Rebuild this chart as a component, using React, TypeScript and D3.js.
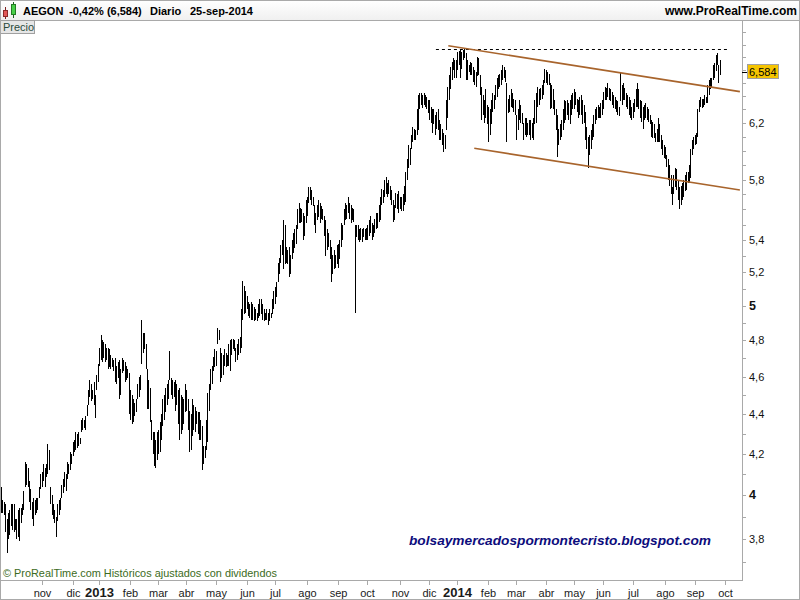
import React from 'react';
import * as d3 from 'd3';

// Daily high / low of AEGON (bar 0 = late Sep 2012, last bar = 25-sep-2014)
const highs = [
  4.04,3.98,3.97,3.96,3.89,3.92,3.93,3.96,3.96,3.96,
  3.89,3.89,3.93,3.94,3.94,3.96,4.02,4.16,4.15,4.13,
  4.07,4.03,3.97,3.99,3.98,3.99,3.99,4.04,4.10,4.11,
  4.15,4.13,4.15,4.25,4.22,4.04,4.00,3.96,3.93,3.90,
  3.96,3.98,3.99,4.05,4.08,4.11,4.10,4.16,4.15,4.21,
  4.20,4.26,4.27,4.31,4.30,4.31,4.28,4.37,4.38,4.37,
  4.39,4.45,4.53,4.58,4.56,4.53,4.57,4.50,4.61,4.67,
  4.76,4.83,4.80,4.79,4.78,4.76,4.76,4.75,4.72,4.70,
  4.69,4.70,4.66,4.68,4.69,4.64,4.70,4.69,4.68,4.66,
  4.64,4.62,4.53,4.50,4.48,4.46,4.48,4.56,4.60,4.61,
  4.92,4.84,4.84,4.78,4.64,4.58,4.54,4.37,4.31,4.31,
  4.27,4.31,4.32,4.36,4.40,4.48,4.50,4.54,4.56,4.58,
  4.74,4.59,4.58,4.57,4.58,4.56,4.53,4.54,4.50,4.49,
  4.48,4.56,4.53,4.48,4.42,4.40,4.48,4.45,4.44,4.42,
  4.41,4.41,4.37,4.34,4.24,4.24,4.37,4.51,4.56,4.64,
  4.66,4.71,4.75,4.74,4.87,4.86,4.76,4.73,4.72,4.75,
  4.73,4.72,4.78,4.80,4.81,4.81,4.80,4.76,4.78,4.81,
  4.82,4.98,5.15,5.12,5.09,5.06,5.02,5.01,5.02,5.01,
  4.99,4.98,4.96,5.01,5.04,5.04,5.01,4.98,4.96,4.98,
  4.96,4.98,4.96,5.04,5.09,5.11,5.14,5.26,5.29,5.37,
  5.40,5.53,5.50,5.36,5.34,5.36,5.31,5.40,5.45,5.47,
  5.50,5.60,5.64,5.61,5.60,5.58,5.56,5.66,5.68,5.75,
  5.75,5.73,5.68,5.63,5.58,5.63,5.66,5.64,5.62,5.60,
  5.56,5.53,5.47,5.45,5.40,5.36,5.31,5.34,5.31,5.37,
  5.38,5.40,5.51,5.50,5.60,5.64,5.63,5.68,5.64,5.63,
  5.61,5.60,5.50,5.50,5.50,5.47,5.48,5.47,5.48,5.47,
  5.48,5.50,5.53,5.56,5.51,5.50,5.54,5.58,5.58,5.63,
  5.68,5.74,5.73,5.80,5.82,5.78,5.80,5.76,5.73,5.66,
  5.63,5.71,5.70,5.72,5.68,5.68,5.70,5.76,5.85,5.94,
  6.04,6.02,6.11,6.17,6.16,6.15,6.30,6.41,6.42,6.42,
  6.41,6.42,6.41,6.39,6.37,6.37,6.32,6.30,6.30,6.26,
  6.28,6.30,6.22,6.19,6.16,6.13,6.11,6.37,6.47,6.56,
  6.62,6.66,6.69,6.68,6.68,6.74,6.75,6.76,6.74,6.76,
  6.77,6.73,6.68,6.64,6.66,6.65,6.62,6.60,6.58,6.70,
  6.69,6.56,6.47,6.41,6.37,6.45,6.33,6.32,6.30,6.37,
  6.42,6.41,6.48,6.54,6.56,6.57,6.60,6.64,6.62,6.60,
  6.50,6.38,6.41,6.45,6.42,6.38,6.37,6.26,6.30,6.37,
  6.33,6.27,6.20,6.24,6.24,6.20,6.22,6.22,6.20,6.24,
  6.37,6.42,6.47,6.45,6.46,6.48,6.52,6.61,6.60,6.58,
  6.57,6.50,6.48,6.45,6.37,6.30,6.26,6.16,6.19,6.22,
  6.30,6.37,6.36,6.37,6.35,6.37,6.41,6.42,6.45,6.43,
  6.38,6.37,6.39,6.41,6.37,6.33,6.28,6.17,6.10,6.11,
  6.15,6.19,6.26,6.30,6.32,6.33,6.32,6.35,6.37,6.43,
  6.47,6.46,6.50,6.46,6.45,6.43,6.41,6.39,6.37,6.36,
  6.32,6.58,6.48,6.50,6.46,6.42,6.41,6.39,6.37,6.32,
  6.35,6.38,6.45,6.50,6.45,6.37,6.36,6.32,6.33,6.35,
  6.32,6.30,6.26,6.22,6.21,6.19,6.13,6.16,6.24,6.19,
  6.11,6.08,6.04,6.03,5.97,5.94,5.90,5.83,5.75,5.83,
  5.88,5.87,5.80,5.75,5.76,5.78,5.80,5.83,5.85,5.85,
  5.90,6.01,6.08,6.10,6.11,6.13,6.30,6.37,6.39,6.38,
  6.38,6.41,6.39,6.48,6.52,6.54,6.54,6.64,6.65,6.72,
  6.73,6.64,6.68,
];

const lows = [
  3.92,3.92,3.91,3.83,3.74,3.80,3.82,3.86,3.84,3.83,
  3.84,3.80,3.81,3.79,3.87,3.91,3.93,4.04,4.05,4.04,
  3.97,3.93,3.89,3.86,3.91,3.92,3.93,3.99,4.03,4.04,
  4.07,4.04,4.09,4.10,4.12,3.96,3.91,3.89,3.87,3.81,
  3.88,3.91,3.93,3.99,4.01,4.04,4.02,4.08,4.10,4.12,
  4.15,4.19,4.21,4.22,4.23,4.24,4.25,4.31,4.32,4.33,
  4.32,4.39,4.45,4.49,4.47,4.48,4.45,4.38,4.53,4.57,
  4.66,4.69,4.68,4.70,4.68,4.69,4.64,4.65,4.64,4.65,
  4.63,4.57,4.56,4.59,4.48,4.50,4.62,4.63,4.57,4.58,
  4.59,4.40,4.37,4.35,4.36,4.39,4.41,4.48,4.49,4.53,
  4.67,4.73,4.75,4.64,4.43,4.43,4.36,4.27,4.20,4.14,
  4.13,4.17,4.20,4.21,4.27,4.34,4.37,4.41,4.45,4.48,
  4.58,4.50,4.48,4.49,4.42,4.45,4.35,4.27,4.30,4.32,
  4.35,4.41,4.42,4.32,4.21,4.22,4.29,4.32,4.31,4.35,
  4.30,4.27,4.27,4.12,4.15,4.18,4.22,4.26,4.42,4.53,
  4.56,4.63,4.65,4.66,4.78,4.80,4.57,4.59,4.61,4.66,
  4.65,4.66,4.66,4.63,4.72,4.75,4.74,4.68,4.69,4.72,
  4.73,4.76,4.92,4.95,4.96,4.98,4.94,4.93,4.92,4.92,
  4.91,4.92,4.91,4.93,4.94,4.95,4.92,4.91,4.92,4.92,
  4.89,4.91,4.93,4.95,4.98,5.01,5.05,5.14,5.19,5.26,
  5.31,5.22,5.25,5.26,5.25,5.17,5.19,5.28,5.32,5.35,
  5.38,5.47,5.51,5.51,5.52,5.40,5.43,5.51,5.56,5.64,
  5.66,5.63,5.62,5.50,5.45,5.53,5.55,5.51,5.54,5.53,
  5.43,5.30,5.34,5.36,5.28,5.14,5.19,5.22,5.23,5.25,
  5.23,5.28,5.36,5.40,5.50,5.53,5.54,5.58,5.54,5.51,
  5.53,5.52,4.96,5.42,5.40,5.39,5.40,5.39,5.42,5.40,
  5.40,5.40,5.43,5.45,5.40,5.42,5.45,5.47,5.48,5.52,
  5.53,5.63,5.64,5.68,5.70,5.68,5.70,5.66,5.63,5.52,
  5.53,5.61,5.60,5.58,5.60,5.59,5.59,5.63,5.65,5.80,
  5.88,5.90,6.01,6.06,6.08,6.08,6.11,6.15,6.30,6.33,
  6.31,6.33,6.32,6.30,6.27,6.22,6.20,6.13,6.19,6.11,
  6.16,6.15,6.08,6.08,6.04,5.99,6.01,6.15,6.24,6.37,
  6.45,6.52,6.60,6.54,6.54,6.60,6.64,6.54,6.61,6.68,
  6.69,6.52,6.52,6.58,6.56,6.56,6.51,6.48,6.47,6.55,
  6.56,6.41,6.22,6.26,6.20,6.24,6.19,6.06,6.11,6.19,
  6.28,6.30,6.37,6.39,6.45,6.47,6.48,6.52,6.54,6.51,
  6.06,6.27,6.28,6.32,6.31,6.28,6.26,6.08,6.15,6.22,
  6.20,6.19,6.08,6.11,6.10,6.11,6.11,6.08,6.09,6.08,
  6.19,6.20,6.32,6.33,6.37,6.38,6.41,6.50,6.50,6.48,
  6.48,6.30,6.31,6.30,6.26,6.15,5.96,6.04,6.08,6.10,
  6.15,6.20,6.22,6.26,6.22,6.19,6.26,6.30,6.30,6.33,
  6.28,6.24,6.26,6.26,6.19,6.20,6.08,6.01,5.88,5.97,
  6.01,6.08,6.10,6.19,6.22,6.24,6.24,6.24,6.26,6.30,
  6.37,6.37,6.39,6.37,6.36,6.33,6.31,6.30,6.28,6.26,
  6.25,6.36,6.33,6.37,6.37,6.32,6.30,6.26,6.24,6.22,
  6.24,6.28,6.32,6.32,6.30,6.24,6.21,6.16,6.22,6.24,
  6.22,6.21,6.19,6.10,6.09,6.09,6.06,6.06,6.06,6.06,
  6.01,5.97,5.95,5.94,5.89,5.80,5.76,5.70,5.63,5.70,
  5.75,5.73,5.66,5.60,5.63,5.66,5.68,5.72,5.73,5.78,
  5.78,5.81,5.97,6.01,6.04,6.05,6.10,6.28,6.32,6.31,
  6.32,6.33,6.35,6.35,6.41,6.45,6.47,6.52,6.54,6.59,
  6.64,6.50,6.56,
];

// x-axis: first trading day of each month (bar index) and its label
const monthLabels = ['nov','dic','2013','feb','mar','abr','may','jun','jul','ago','sep','oct','nov','dic','2014','feb','mar','abr','may','jun','jul','ago','sep','oct'];
const monthIndex = [29,51,70,92,112,132,153,175,195,218,240,261,284,305,325,347,367,388,408,429,450,473,494,516];

// y-axis labels
const yLabelValues = [3.8, 4, 4.2, 4.4, 4.6, 4.8, 5, 5.2, 5.4, 5.8, 6.2];
const yLabelTexts = ['3,8', '4', '4,2', '4,4', '4,6', '4,8', '5', '5,2', '5,4', '5,8', '6,2'];
const yMinorValues = [3.7,3.8,3.9,4.0,4.1,4.2,4.3,4.4,4.5,4.6,4.7,4.8,4.9,5.0,5.1,5.2,5.3,5.4,5.5,5.6,5.7,5.8,5.9,6.0,6.1,6.2,6.3,6.4,6.5,6.6,6.7,6.8,6.9];

const lastClose = 6.584;
const lastCloseText = '6,584';
const resistanceLevel = 6.765;
const resistanceFrom = 309.8;
const resistanceTo = 519.2;
// channel lines: [bar index, price]
const upperChannel: [number, number][] = [[318.6, 6.79], [526.3, 6.433]];
const lowerChannel: [number, number][] = [[337.1, 6.018], [526.3, 5.73]];

const FONT = '"Liberation Sans", Arial, Helvetica, sans-serif';

export default function App() {
  const W = 800, H = 600;
  const plotL = 0, plotR = 742, plotT = 20, plotB = 580;
  const x = d3.scaleLinear().domain([-0.7, 527.8]).range([plotL, plotR]);
  const y = d3.scaleLog().domain([3.621, 6.999]).range([plotB, plotT]);

  const barPath = highs
    .map((h, i) => {
      const xx = Math.round(x(i)) + 0.5;
      const y1 = Math.round(y(h));
      let y2 = Math.round(y(lows[i]));
      if (y2 <= y1) y2 = y1 + 1;
      return `M${xx},${y1}V${y2}`;
    })
    .join('');

  const line = d3.line<[number, number]>().x(d => x(d[0])).y(d => y(d[1]));

  const grey = '#a9a9a9';

  return (
    <svg width={W} height={H} style={{ position: 'absolute', left: 0, top: 0, background: '#fff' }} fontFamily={FONT}>
      <defs>
        <linearGradient id="hdr" x1="0" y1="0" x2="0" y2="1">
          <stop offset="0" stopColor="#ffffff" />
          <stop offset="1" stopColor="#f0f0f0" />
        </linearGradient>
        <clipPath id="plotclip">
          <rect x={plotL} y={plotT} width={plotR - plotL} height={plotB - plotT} />
        </clipPath>
      </defs>
      <rect x={0} y={0} width={W} height={H} fill="#fff" />
      {/* header */}
      <rect x={0} y={0} width={W} height={20} fill="url(#hdr)" />
      <line x1={0} x2={W} y1={20.5} y2={20.5} stroke={grey} />
      {/* icon */}
      <line x1={5.5} x2={5.5} y1={7} y2={19} stroke="#802020" />
      <rect x={3.5} y={10.5} width={4} height={6} fill="#e25858" stroke="#8a2a2a" />
      <line x1={13.5} x2={13.5} y1={2} y2={18} stroke="#206020" />
      <rect x={11.5} y={4.5} width={4} height={10} fill="#49d049" stroke="#247a24" />
      <g fontSize={11} fontWeight="bold" fill="#000">
        <text x={23} y={15}>AEGON</text>
        <text x={69} y={15}>-0,42% (6,584)</text>
        <text x={150} y={15}>Diario</text>
        <text x={190} y={15}>25-sep-2014</text>
      </g>
      <text x={797} y={15} fontSize={12} fontWeight="bold" textAnchor="end" fill="#000">www.ProRealTime.com</text>

      {/* plot content */}
      <g clipPath="url(#plotclip)">
        <path d={barPath} stroke="#000" strokeWidth={1} fill="none" shapeRendering="crispEdges" />
        <line x1={x(resistanceFrom)} x2={x(resistanceTo)} y1={Math.round(y(resistanceLevel)) + 0.5} y2={Math.round(y(resistanceLevel)) + 0.5}
          stroke="#000" strokeDasharray="3,3" strokeWidth={1} />
        <path d={line(upperChannel) || ''} stroke="#a8642c" strokeWidth={1.6} fill="none" />
        <path d={line(lowerChannel) || ''} stroke="#a8642c" strokeWidth={1.6} fill="none" />
      </g>

      {/* Precio tag */}
      <rect x={0.5} y={20.5} width={34} height={13} fill="#e6e6e6" stroke="#a0a0a0" />
      <text x={3} y={31} fontSize={11} fill="#2b4b3b">Precio</text>

      {/* blog text */}
      <text x={409} y={545} fontSize={13.7} fontWeight="bold" fontStyle="italic" fill="#0c0c7c">bolsaymercadospormontecristo.blogspot.com</text>

      {/* copyright */}
      <text x={3} y={577} fontSize={10.9} fill="#3c6b22">© ProRealTime.com Históricos ajustados con dividendos</text>

      {/* axes */}
      <line x1={plotR + 0.5} x2={plotR + 0.5} y1={plotT} y2={plotB + 1} stroke={grey} />
      <line x1={0} x2={plotR + 1} y1={plotB + 0.5} y2={plotB + 0.5} stroke={grey} />
      {yMinorValues.map((v, i) => {
        const yy = Math.round(y(v)) + 0.5;
        if (yy < plotT + 2 || yy > plotB - 2) return null;
        return <line key={'m' + i} x1={plotR} x2={plotR + 4} y1={yy} y2={yy} stroke={grey} />;
      })}
      {yLabelValues.map((v, i) => {
        const yy = y(v);
        const big = yLabelTexts[i] === '5' || yLabelTexts[i] === '4';
        return (
          <text key={'l' + i} x={749} y={yy + 4} fontSize={big ? 12.5 : 11} fontWeight={big ? 'bold' : 'normal'} fill="#111">
            {yLabelTexts[i]}
          </text>
        );
      })}
      {/* last price marker */}
      <line x1={plotR} x2={plotR + 5} y1={Math.round(y(lastClose)) + 0.5} y2={Math.round(y(lastClose)) + 0.5} stroke="#000" />
      <rect x={747.5} y={Math.round(y(lastClose)) - 7.5} width={31} height={14} fill="#f5c400" stroke="#a0a0a0" />
      <text x={749} y={Math.round(y(lastClose)) + 4} fontSize={11} fill="#000">{lastCloseText}</text>

      {/* x axis */}
      {monthIndex.map((m, i) => {
        const xx = Math.round(x(m)) + 0.5;
        const isYear = /^\d{4}$/.test(monthLabels[i]);
        return (
          <g key={'x' + i}>
            <line x1={xx} x2={xx} y1={plotB + 1} y2={plotB + 5} stroke={grey} />
            <text x={xx} y={597} textAnchor="middle" fontSize={isYear ? 13 : 11} fontWeight={isYear ? 'bold' : 'normal'} fill="#1a1a1a">
              {monthLabels[i]}
            </text>
          </g>
        );
      })}

      {/* outer border */}
      <rect x={0.5} y={0.5} width={W - 1} height={H - 1} fill="none" stroke={grey} />
    </svg>
  );
}
